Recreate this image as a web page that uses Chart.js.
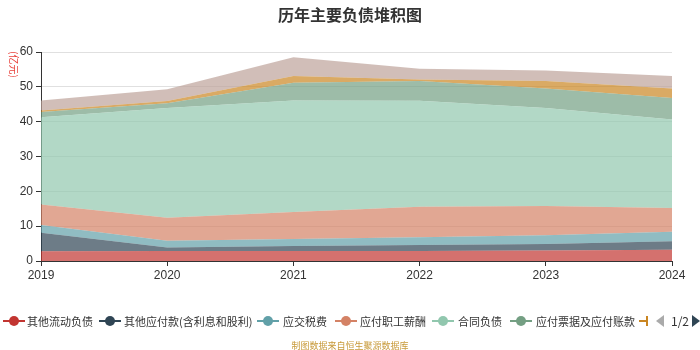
<!DOCTYPE html>
<html><head><meta charset="utf-8">
<script src="https://cdn.jsdelivr.net/npm/chart.js@4"></script>
<style>
html,body{margin:0;padding:0;background:#fff;}
#wrap{position:relative;width:700px;height:350px;font-family:"Noto Sans CJK SC","Noto Sans",sans-serif;}
canvas{position:absolute;left:0;top:0;}
#title{position:absolute;top:2px;left:0;width:700px;text-align:center;font-size:16px;font-weight:bold;color:#333;}
#unit{position:absolute;left:3px;top:51px;width:22px;height:22px;font-size:10px;color:#e8403a;transform:rotate(90deg);transform-origin:center;white-space:nowrap;line-height:22px;text-align:center;}
#legend{position:absolute;top:312px;left:0px;height:18px;font-size:11px;color:#333;white-space:nowrap;}
.ic{position:absolute;top:8px;width:22px;height:2px;}
.ic i{position:absolute;left:6px;top:-4px;width:10px;height:10px;border-radius:50%;}
.tx{position:absolute;top:0;line-height:18px;}
#foot{position:absolute;top:339px;left:0;width:700px;text-align:center;font-size:9px;color:#c89a3a;}
</style></head>
<body>
<div id="wrap">
<canvas id="c" width="700" height="350"></canvas>
<div id="title">历年主要负债堆积图</div>
<div id="unit">(亿元)</div>
<div id="legend"></div>
<div id="foot">制图数据来自恒生聚源数据库</div>
</div>
<script>
const years = ['2019','2020','2021','2022','2023','2024'];
const seriesNames = ['其他流动负债','其他应付款(含利息和股利)','应交税费','应付职工薪酬','合同负债','应付票据及应付账款','租赁负债','其他'];
const otherCurrent = [2.8, 2.9, 2.9, 2.9, 3.0, 3.2];
const otherPayables = [5.3, 1.0, 1.4, 1.7, 1.9, 2.5];
const taxesPayable = [2.2, 1.9, 2.0, 2.2, 2.5, 2.7];
const payroll = [5.9, 6.6, 7.8, 8.8, 8.4, 6.8];
const contractLiab = [25.1, 31.5, 32.0, 30.4, 28.1, 25.4];
const notesAccounts = [1.5, 1.4, 5.1, 5.7, 5.6, 6.2];
const leaseLiab = [0.4, 0.6, 1.9, 0.4, 2.2, 2.7];
const others = [2.9, 3.4, 5.4, 3.1, 3.0, 3.6];
const yTicks = [0,10,20,30,40,50,60];

const colors = ['#c23531','#2f4554','#61a0a8','#d48265','#91c7ae','#749f83','#ca8622','#bda29a'];
const seriesData = [otherCurrent, otherPayables, taxesPayable, payroll, contractLiab, notesAccounts, leaseLiab, others];

function rgba(hex,a){const n=parseInt(hex.slice(1),16);return `rgba(${n>>16},${(n>>8)&255},${n&255},${a})`;}

const datasets = seriesData.map((d,i)=>({
  label: seriesNames[i],
  data: d,
  backgroundColor: rgba(colors[i],0.7),
  borderColor: rgba(colors[i],0.7),
  borderWidth: 0,
  pointRadius: 0,
  pointHoverRadius: 0,
  fill: i===0 ? 'origin' : '-1',
  tension: 0
}));

new Chart(document.getElementById('c'), {
  type: 'line',
  data: { labels: years, datasets },
  options: {
    responsive: false,
    animation: false,
    layout: { padding: { top: 52, left: 0, right: 28, bottom: 69 } },
    plugins: { legend: { display: false }, tooltip: { enabled: false }, title: { display: false } },
    scales: {
      x: {
        offset: false,
        grid: { display: true, drawOnChartArea: false, tickLength: 5, tickColor: '#333' },
        border: { color: '#333', width: 1 },
        ticks: { color: '#333', font: { size: 12 }, padding: 2, maxRotation: 0 },
        afterFit: s => { s.height = 20; }
      },
      y: {
        stacked: true,
        min: 0, max: 60,
        afterBuildTicks: s => { s.ticks = yTicks.map(v=>({value:v})); },
        grid: { color: '#e0e0e0', tickLength: 5, tickColor: '#333' },
        border: { color: '#333', width: 1 },
        ticks: { color: '#333', font: { size: 12 }, padding: 3 },
        afterFit: s => { s.width = 41; }
      }
    }
  }
});

// HTML legend (page 1 of 2)
const legendItems = [
  {i:0, x:3, tx:27},
  {i:1, x:99, tx:124},
  {i:2, x:257, tx:283},
  {i:3, x:335, tx:360},
  {i:4, x:432, tx:458},
  {i:5, x:510, tx:536}
];
const lg = document.getElementById('legend');
legendItems.forEach(it=>{
  const c = colors[it.i];
  lg.insertAdjacentHTML('beforeend',
    `<div class="ic" style="left:${it.x}px;background:${c}"><i style="background:${c}"></i></div>` +
    `<div class="tx" style="left:${it.tx}px">${seriesNames[it.i]}</div>`);
});
// partial orange icon (cut off by legend paging)
lg.insertAdjacentHTML('beforeend', `<div style="position:absolute;left:639px;top:8px;width:8px;height:2px;background:${colors[6]}"></div><div style="position:absolute;left:646px;top:4px;width:2px;height:10px;background:${colors[6]}"></div>`);
document.getElementById('wrap').insertAdjacentHTML('beforeend',
  `<div style="position:absolute;left:656px;top:315px;width:0;height:0;border-top:6px solid transparent;border-bottom:6px solid transparent;border-right:8px solid #aaa"></div>` +
  `<div style="position:absolute;left:671px;top:312px;font-size:12px;color:#333;line-height:18px">1/2</div>` +
  `<div style="position:absolute;left:692px;top:315px;width:0;height:0;border-top:6px solid transparent;border-bottom:6px solid transparent;border-left:8px solid #2f4554"></div>`);
</script>
</body></html>
